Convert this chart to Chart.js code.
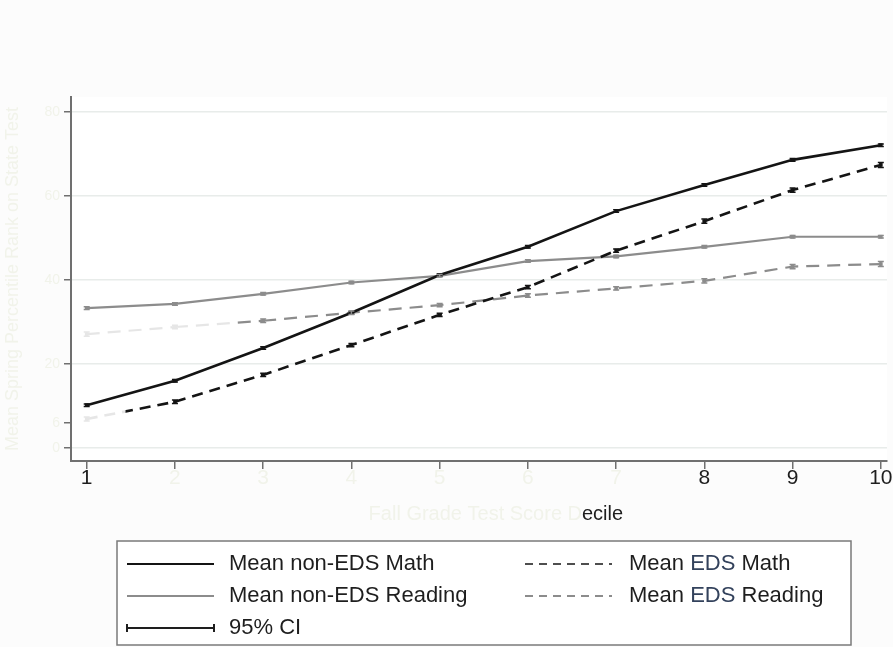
<!DOCTYPE html>
<html>
<head>
<meta charset="utf-8">
<script src="https://cdn.jsdelivr.net/npm/chart.js@4.4.1/dist/chart.umd.min.js"></script>
<style>
  html, body { margin: 0; padding: 0; background: #fcfcfc; }
  #wrap { width: 893px; height: 647px; position: relative; }
</style>
</head>
<body>
<div id="wrap"><canvas id="c" width="893" height="647"></canvas></div>
<script>
// ---- data ----
const deciles = [1, 2, 3, 4, 5, 6, 7, 8, 9, 10];
const xTickLabels = ['1', '2', '3', '4', '5', '6', '7', '8', '9', '10'];
const yTickValues = [0, 6, 20, 40, 60, 80];
const yTickLabels = ['0', '6', '20', '40', '60', '80'];

const nonEdsMath    = [10.2, 16.0, 23.8, 32.2, 41.2, 47.9, 56.4, 62.6, 68.6, 72.1];
const edsMath       = [6.9, 11.0, 17.4, 24.5, 31.7, 38.3, 47.0, 54.0, 61.4, 67.4];
const nonEdsReading = [33.3, 34.3, 36.7, 39.4, 41.0, 44.5, 45.6, 47.9, 50.3, 50.3];
const edsReading    = [27.1, 28.8, 30.3, 32.2, 34.0, 36.3, 38.0, 39.8, 43.2, 43.8];

// 95% CI half-widths
const ciNonEdsMath    = [0.3, 0.3, 0.3, 0.3, 0.3, 0.3, 0.3, 0.3, 0.3, 0.3];
const ciEdsMath       = [0.5, 0.4, 0.4, 0.4, 0.4, 0.4, 0.4, 0.5, 0.5, 0.6];
const ciNonEdsReading = [0.3, 0.3, 0.3, 0.3, 0.3, 0.3, 0.3, 0.3, 0.3, 0.3];
const ciEdsReading    = [0.5, 0.4, 0.4, 0.4, 0.4, 0.4, 0.4, 0.5, 0.5, 0.6];

const seriesNames = ['Mean non-EDS Math', 'Mean EDS Math', 'Mean non-EDS Reading', 'Mean EDS Reading'];
const ciLabel = '95% CI';
const xTitlePale = 'Fall Grade Test Score D';
const xTitleDark = 'ecile';
const yTitle = 'Mean Spring Percentile Rank on State Test';

const FONT = "'Liberation Sans', Arial, sans-serif";
const PALE = '#f1f3ea';
const FADED = '#e6e6e6';

function pts(arr) { return deciles.map((d, i) => ({ x: d, y: arr[i] })); }

const canvasCtx = document.getElementById('c').getContext('2d');
// gradient that is faded up to a fraction of the segment, then solid
function fadeGrad(p0, p1, frac, solid) {
  const g = canvasCtx.createLinearGradient(p0.x, 0, p1.x, 0);
  g.addColorStop(0, FADED);
  g.addColorStop(Math.max(0, frac - 0.02), FADED);
  g.addColorStop(frac, solid);
  g.addColorStop(1, solid);
  return g;
}

const datasets = [
  { label: seriesNames[0], data: pts(nonEdsMath), ci: ciNonEdsMath,
    borderColor: '#141414', backgroundColor: '#141414', borderWidth: 2.6 },
  { label: seriesNames[1], data: pts(edsMath), ci: ciEdsMath,
    borderColor: '#141414', backgroundColor: '#141414', borderWidth: 2.6, borderDash: [11, 7],
    segment: { borderColor: ctx => ctx.p0DataIndex === 0 ? fadeGrad(ctx.p0, ctx.p1, 0.45, '#141414') : undefined } },
  { label: seriesNames[2], data: pts(nonEdsReading), ci: ciNonEdsReading,
    borderColor: '#8c8c8c', backgroundColor: '#8c8c8c', borderWidth: 2.2 },
  { label: seriesNames[3], data: pts(edsReading), ci: ciEdsReading,
    borderColor: '#8c8c8c', backgroundColor: '#8c8c8c', borderWidth: 2.2, borderDash: [13, 8],
    segment: { borderColor: ctx => ctx.p0DataIndex === 0 ? FADED : (ctx.p0DataIndex === 1 ? fadeGrad(ctx.p0, ctx.p1, 0.7, '#8c8c8c') : undefined) } }
];
datasets.forEach(d => {
  d.tension = 0;
  d.pointStyle = 'rect';
  d.pointRadius = 2.6;
  d.pointBorderWidth = 0;
  d.fill = false;
});
datasets[1].pointBackgroundColor = deciles.map((d, i) => i < 1 ? FADED : '#141414');
datasets[3].pointBackgroundColor = deciles.map((d, i) => i < 2 ? FADED : '#8c8c8c');

const ciPlugin = {
  id: 'ci',
  afterDatasetsDraw(chart) {
    const { ctx, scales: { x, y } } = chart;
    ctx.save();
    chart.data.datasets.forEach((ds, di) => {
      ds.data.forEach((p, i) => {
        const px = x.getPixelForValue(p.x);
        const y1 = y.getPixelForValue(p.y - ds.ci[i]);
        const y2 = y.getPixelForValue(p.y + ds.ci[i]);
        const faded = (di === 3 && i < 2) || (di === 1 && i === 0);
        ctx.strokeStyle = faded ? FADED : ds.borderColor;
        ctx.lineWidth = 1.5;
        ctx.beginPath();
        ctx.moveTo(px, y1); ctx.lineTo(px, y2);
        ctx.moveTo(px - 3, y1); ctx.lineTo(px + 3, y1);
        ctx.moveTo(px - 3, y2); ctx.lineTo(px + 3, y2);
        ctx.stroke();
      });
    });
    ctx.restore();
  }
};

const xTitlePlugin = {
  id: 'xtitle',
  afterDraw(chart) {
    const ctx = chart.ctx;
    ctx.save();
    ctx.font = '20px ' + FONT;
    ctx.textBaseline = 'middle';
    ctx.textAlign = 'right';
    ctx.fillStyle = PALE;
    ctx.fillText(xTitlePale, 582, 514);
    ctx.textAlign = 'left';
    ctx.fillStyle = '#1e1e1e';
    ctx.fillText(xTitleDark, 582, 514);
    ctx.restore();
  }
};

const legendPlugin = {
  id: 'boxlegend',
  afterDraw(chart) {
    const ctx = chart.ctx;
    const ds = chart.data.datasets;
    const L = 117, R = 851, T = 541, B = 645;
    ctx.save();
    ctx.fillStyle = '#ffffff';
    ctx.fillRect(L, T, R - L, B - T);
    ctx.strokeStyle = '#7a7a7a';
    ctx.lineWidth = 1.5;
    ctx.strokeRect(L, T, R - L, B - T);
    const rows = [564, 596, 628];
    const cols = [{ x0: 127, x1: 214, tx: 229 }, { x0: 525, x1: 612, tx: 629 }];
    const items = [
      { ds: ds[0], col: 0, row: 0, w: 2.2, dash: [] },
      { ds: ds[1], col: 1, row: 0, w: 1.5, dash: [8, 6] },
      { ds: ds[2], col: 0, row: 1, w: 2.2, dash: [] },
      { ds: ds[3], col: 1, row: 1, w: 2.0, dash: [8, 6] }
    ];
    ctx.font = '22px ' + FONT;
    ctx.textBaseline = 'middle';
    ctx.textAlign = 'left';
    items.forEach(it => {
      const c = cols[it.col], y = rows[it.row];
      ctx.strokeStyle = it.ds.borderColor;
      ctx.lineWidth = it.w;
      ctx.setLineDash(it.dash);
      ctx.beginPath(); ctx.moveTo(c.x0, y); ctx.lineTo(c.x1, y); ctx.stroke();
      ctx.setLineDash([]);
      const label = it.ds.label;
      if (it.col === 1 && label.indexOf('EDS') >= 0) {
        const k = label.indexOf('EDS');
        const a = label.slice(0, k), b = 'EDS', c2 = label.slice(k + 3);
        let x = c.tx;
        ctx.fillStyle = '#1e1e1e'; ctx.fillText(a, x, y); x += ctx.measureText(a).width;
        ctx.fillStyle = '#33425c'; ctx.fillText(b, x, y); x += ctx.measureText(b).width;
        ctx.fillStyle = '#1e1e1e'; ctx.fillText(c2, x, y);
      } else {
        ctx.fillStyle = '#1e1e1e';
        ctx.fillText(label, c.tx, y);
      }
    });
    // CI entry
    const y = rows[2], c = cols[0];
    ctx.strokeStyle = '#1e1e1e';
    ctx.lineWidth = 2;
    ctx.beginPath();
    ctx.moveTo(c.x0, y); ctx.lineTo(c.x1, y);
    ctx.moveTo(c.x0, y - 4); ctx.lineTo(c.x0, y + 4);
    ctx.moveTo(c.x1, y - 4); ctx.lineTo(c.x1, y + 4);
    ctx.stroke();
    ctx.fillStyle = '#1e1e1e';
    ctx.fillText(ciLabel, c.tx, y);
    ctx.restore();
  }
};

const bgPlugin = {
  id: 'bg',
  beforeDraw(chart) {
    const { ctx, chartArea: a } = chart;
    ctx.save();
    ctx.fillStyle = '#ffffff';
    ctx.fillRect(a.left, a.top, a.right - a.left, a.bottom - a.top);
    ctx.restore();
  }
};

new Chart(document.getElementById('c'), {
  type: 'line',
  data: { datasets },
  plugins: [bgPlugin, ciPlugin, xTitlePlugin, legendPlugin],
  options: {
    responsive: false,
    animation: false,
    layout: { padding: { top: 97, right: 6, left: 0, bottom: 0 } },
    plugins: { legend: { display: false }, tooltip: { enabled: false }, title: { display: false } },
    scales: {
      x: {
        type: 'linear',
        min: 0.822, max: 10.07,
        afterFit(s) { s.height = 186; },
        afterBuildTicks(s) { s.ticks = deciles.map(v => ({ value: v })); },
        border: { color: '#707070', width: 2 },
        grid: { drawOnChartArea: false, tickLength: 8, tickColor: '#707070', lineWidth: 1.5 },
        ticks: {
          autoSkip: false, maxRotation: 0, padding: -3,
          font: { size: 21, family: FONT },
          color: ctx => (ctx.index >= 1 && ctx.index <= 6) ? PALE : '#1e1e1e',
          callback: (v, i) => xTickLabels[i]
        }
      },
      y: {
        type: 'linear',
        min: -3.1, max: 83.57,
        afterFit(s) { s.width = 71; },
        afterBuildTicks(s) { s.ticks = yTickValues.map(v => ({ value: v })); },
        border: { color: '#707070', width: 2 },
        grid: {
          tickLength: 7, tickColor: '#707070', lineWidth: 1.5,
          color: ctx => (ctx.tick && ctx.tick.value === 6) ? 'rgba(0,0,0,0)' : '#e8ecea'
        },
        title: { display: true, text: yTitle, color: PALE, font: { size: 18, family: FONT }, padding: { top: 2, bottom: 4 } },
        ticks: {
          autoSkip: false, padding: 4,
          font: { size: 14, family: FONT },
          color: PALE,
          callback: (v, i) => yTickLabels[i]
        }
      }
    }
  }
});
</script>
</body>
</html>
